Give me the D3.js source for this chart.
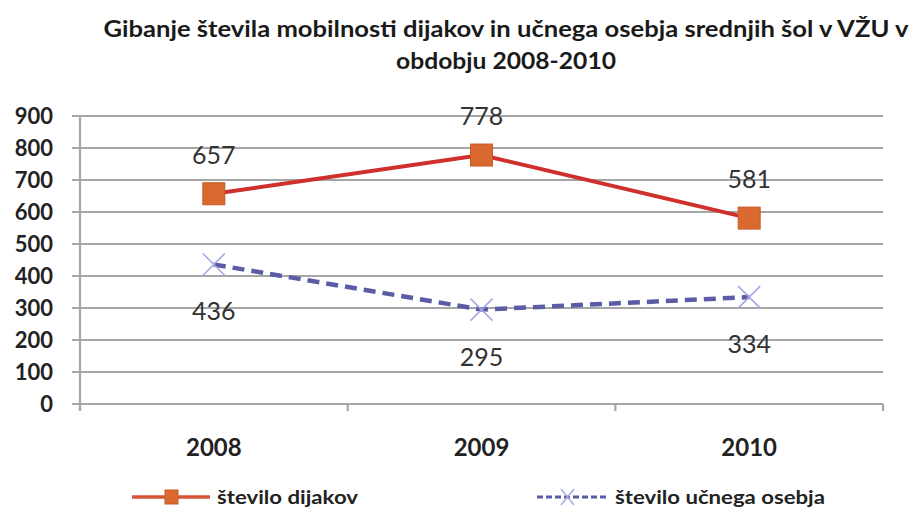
<!DOCTYPE html>
<html><head><meta charset="utf-8">
<script src="https://cdn.jsdelivr.net/npm/d3@7"></script>
<style>body{margin:0;background:#fff}svg{display:block}</style>
</head><body>
<script>
const categories = ["2008", "2009", "2010"];
const dijakov = [657, 778, 581];
const osebja = [436, 295, 334];
const yTicks = [0, 100, 200, 300, 400, 500, 600, 700, 800, 900];
const seriesNames = ["število dijakov", "število učnega osebja"];
const titleLines = ["Gibanje števila mobilnosti dijakov in učnega osebja srednjih šol v VŽU v", "obdobju 2008-2010"];

const W = 922, H = 507;
const svg = d3.select("body").append("svg").attr("width", W).attr("height", H);
const font = "Lato, 'Open Sans', sans-serif";

const x = d3.scaleBand().domain(categories).range([80, 883]);
const y = d3.scaleLinear().domain([0, 900]).range([404, 116]);

// title
const titleLen = [805, 220];
svg.append("g").selectAll("text").data(titleLines).join("text")
  .attr("x", 506).attr("y", (d, i) => 37 + i * 32)
  .attr("text-anchor", "middle").attr("font-family", font).attr("font-weight", "bold")
  .attr("font-size", 22).attr("fill", "#1a1a1a")
  .attr("textLength", (d, i) => titleLen[i]).attr("lengthAdjust", "spacingAndGlyphs")
  .text(d => d);

// gridlines
svg.append("g").selectAll("line").data(yTicks).join("line")
  .attr("x1", 72).attr("x2", 883).attr("y1", d => y(d)).attr("y2", d => y(d))
  .attr("stroke", "#a6a6a6").attr("stroke-width", 2.2);

// y axis line
svg.append("line").attr("x1", 80).attr("x2", 80).attr("y1", y(900)).attr("y2", 411)
  .attr("stroke", "#a6a6a6").attr("stroke-width", 2.2);

// y labels
svg.append("g").selectAll("text").data(yTicks).join("text")
  .attr("x", 53).attr("y", d => y(d)).attr("dy", "0.36em").attr("text-anchor", "end")
  .attr("font-family", font).attr("font-weight", "bold").attr("font-size", 22).attr("fill", "#222")
  .text(d => d);

// x axis ticks
const bounds = categories.map(c => x(c)).concat([x.range()[1]]);
svg.append("g").selectAll("line").data(bounds).join("line")
  .attr("x1", d => d).attr("x2", d => d).attr("y1", 404).attr("y2", 411)
  .attr("stroke", "#a6a6a6").attr("stroke-width", 2.2);

// x labels
svg.append("g").selectAll("text").data(categories).join("text")
  .attr("x", d => x(d) + x.bandwidth() / 2).attr("y", 456).attr("text-anchor", "middle")
  .attr("font-family", font).attr("font-weight", "bold").attr("font-size", 24).attr("fill", "#222")
  .text(d => d);

const cx = (d, i) => x(categories[i]) + x.bandwidth() / 2;
const line = d3.line().x(cx).y(d => y(d));

// blue dashed series
svg.append("path").datum(osebja).attr("d", line).attr("fill", "none")
  .attr("stroke", "#5b5ba6").attr("stroke-width", 4.5).attr("stroke-dasharray", "12,7");
svg.append("g").selectAll("path").data(osebja).join("path")
  .attr("d", (d, i) => { const px = cx(d, i), py = y(d), s = 11; return `M${px-s},${py-s}L${px+s},${py+s}M${px-s},${py+s}L${px+s},${py-s}`; })
  .attr("stroke", "#a4a4e6").attr("stroke-width", 1.5);

// red series
svg.append("path").datum(dijakov).attr("d", line).attr("fill", "none")
  .attr("stroke", "#d0302c").attr("stroke-width", 4);
svg.append("g").selectAll("rect").data(dijakov).join("rect")
  .attr("x", (d, i) => cx(d, i) - 11).attr("y", d => y(d) - 11).attr("width", 22).attr("height", 22)
  .attr("fill", "#d9692f").attr("stroke", "#c85a25").attr("stroke-width", 1);

// data labels
svg.append("g").selectAll("text").data(dijakov).join("text")
  .attr("x", cx).attr("y", d => y(d) - 30).attr("text-anchor", "middle")
  .attr("font-family", font).attr("font-size", 25).attr("fill", "#333").text(d => d);
svg.append("g").selectAll("text").data(osebja).join("text")
  .attr("x", cx).attr("y", d => y(d) + 56).attr("text-anchor", "middle")
  .attr("font-family", font).attr("font-size", 25).attr("fill", "#333").text(d => d);

// legend
const lg = svg.append("g");
const ly = 497;
lg.append("line").attr("x1", 132).attr("x2", 210).attr("y1", ly).attr("y2", ly)
  .attr("stroke", "#d9553a").attr("stroke-width", 3.5);
lg.append("rect").attr("x", 165).attr("y", ly - 7).attr("width", 13).attr("height", 14)
  .attr("fill", "#d9692f").attr("stroke", "#c85a25");
lg.append("text").attr("x", 217).attr("y", 504).attr("font-family", font).attr("font-weight", "bold")
  .attr("font-size", 19).attr("fill", "#222")
  .attr("textLength", 141).attr("lengthAdjust", "spacingAndGlyphs").text(seriesNames[0]);
lg.append("line").attr("x1", 537).attr("x2", 608).attr("y1", ly).attr("y2", ly)
  .attr("stroke", "#5b5ba6").attr("stroke-width", 3).attr("stroke-dasharray", "6,3");
lg.append("path").attr("d", `M561,${ly-8}L574,${ly+8}M561,${ly+8}L574,${ly-8}`).attr("stroke", "#a4a4e6").attr("stroke-width", 1.3);
lg.append("text").attr("x", 615).attr("y", 504).attr("font-family", font).attr("font-weight", "bold")
  .attr("font-size", 19).attr("fill", "#222")
  .attr("textLength", 210).attr("lengthAdjust", "spacingAndGlyphs").text(seriesNames[1]);
</script>
</body></html>
